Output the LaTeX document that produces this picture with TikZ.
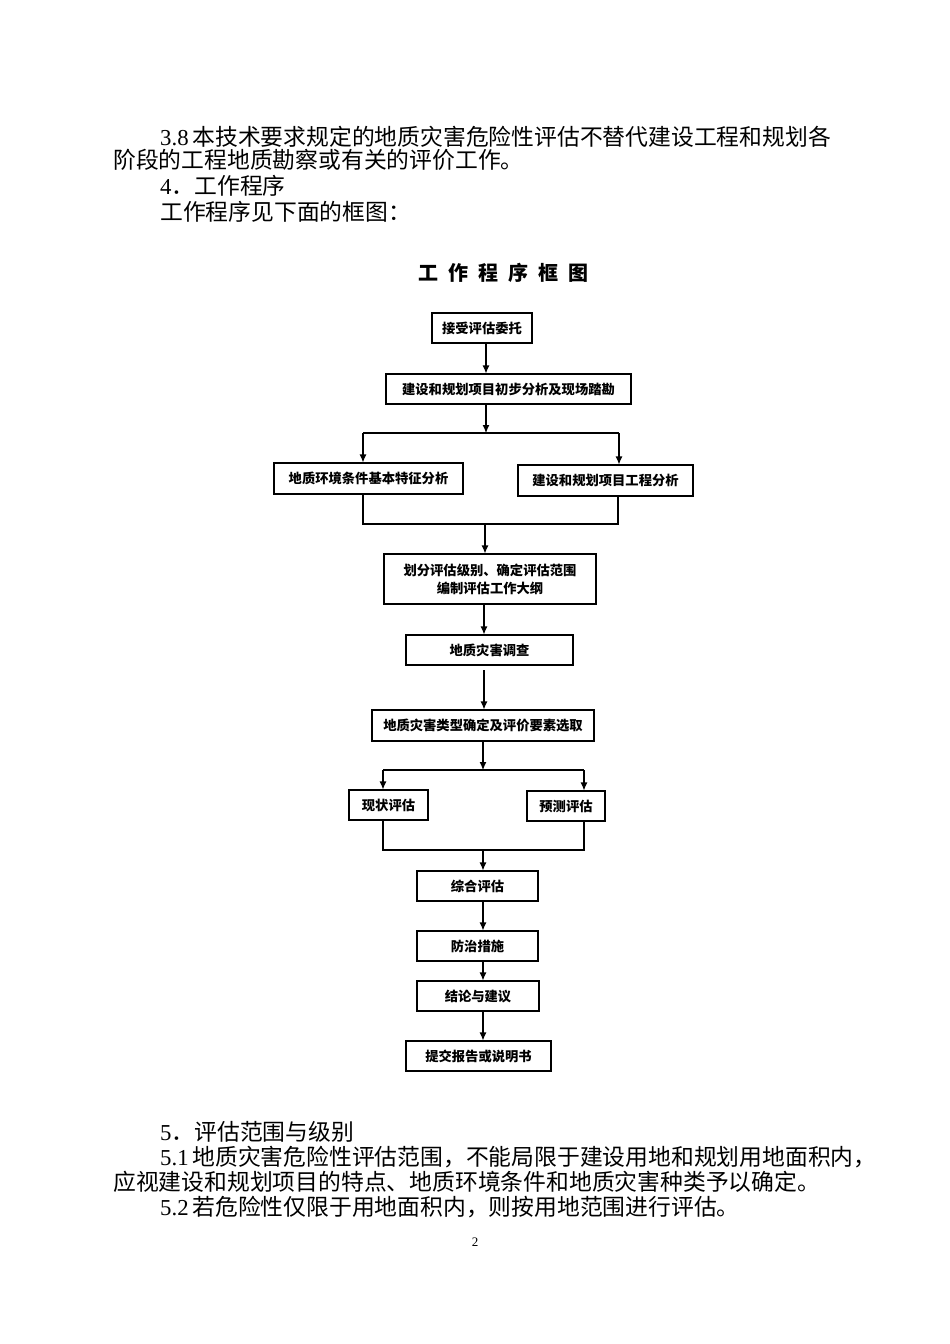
\documentclass[tikz,border=0pt]{standalone}
\usepackage{fontspec}
\setmainfont{Liberation Serif}
\newfontfamily\cjk{Noto Sans CJK SC}
\usetikzlibrary{arrows.meta}
\begin{document}
\begin{tikzpicture}[x=1pt,y=-1pt,
  body/.style={anchor=west,inner sep=0pt,font=\fontsize{22.8}{25}\selectfont},
  box/.style={draw,line width=1.1pt,inner sep=0pt,font=\cjk\bfseries\fontsize{13.3}{18}\selectfont,align=center},
  arr/.style={line width=1.1pt,-{Latex[length=8pt,width=7pt]}},
  ln/.style={line width=1.1pt}]
\useasboundingbox (0,0) rectangle (950,1344);
\fill[white] (0,0) rectangle (950,1344);
% body text
\node[body] (t1) at (160,137) {3.8\,{\cjk 本技术要求规定的地质灾害危险性评估不替代建设工程和规划各}};
\node[body] (t2) at (113,160) {\cjk 阶段的工程地质勘察或有关的评价工作。};
\node[body] (t3) at (160,186) {4{\cjk ．工作程序}};
\node[body] (t4) at (160,212) {\cjk 工作程序见下面的框图：};
\node[body] (t5) at (160,1132) {5{\cjk ．评估范围与级别}};
\node[body] (t6) at (160,1157) {5.1\,{\cjk 地质灾害危险性评估范围，不能局限于建设用地和规划用地面积内，}};
\node[body] (t7) at (113,1182) {\cjk 应视建设和规划项目的特点、地质环境条件和地质灾害种类予以确定。};
\node[body] (t8) at (160,1207) {5.2\,{\cjk 若危险性仅限于用地面积内，则按用地范围进行评估。}};
\node[font=\fontsize{13}{15}\selectfont] (pg) at (475,1242) {2};
% title
\foreach \c [count=\i from 0] in {工,作,程,序,框,图}
  \node[font=\cjk\bfseries\fontsize{20}{22}\selectfont] (h\i) at (428+30*\i,273) {\c};
% boxes
\node[box,minimum width=100pt,minimum height=30pt] (b1) at (482,328) {接受评估委托};
\node[box,minimum width=245pt,minimum height=30pt] (b2) at (508.5,389) {建设和规划项目初步分析及现场踏勘};
\node[box,minimum width=189pt,minimum height=31pt] (b3) at (368.5,478.5) {地质环境条件基本特征分析};
\node[box,minimum width=175pt,minimum height=31pt] (b4) at (605.5,480.5) {建设和规划项目工程分析};
\node[box,minimum width=212pt,minimum height=50pt] (b5) at (490,579) {划分评估级别、确定评估范围\\编制评估工作大纲};
\node[box,minimum width=167pt,minimum height=30pt] (b6) at (489.5,650) {地质灾害调查};
\node[box,minimum width=222pt,minimum height=31pt] (b7) at (483,725.5) {地质灾害类型确定及评价要素选取};
\node[box,minimum width=79pt,minimum height=30pt] (b8) at (388.5,805) {现状评估};
\node[box,minimum width=78pt,minimum height=30pt] (b9) at (566,806) {预测评估};
\node[box,minimum width=121pt,minimum height=30pt] (b10) at (477.5,886) {综合评估};
\node[box,minimum width=121pt,minimum height=30pt] (b11) at (477.5,946) {防治措施};
\node[box,minimum width=122pt,minimum height=30pt] (b12) at (478,996) {结论与建议};
\node[box,minimum width=145pt,minimum height=30pt] (b13) at (478.5,1056) {提交报告或说明书};
% connectors
\coordinate (s1) at (486,433);
\coordinate (s1L) at (363,433);
\coordinate (s1R) at (619,433);
\coordinate (m1) at (485,524);
\coordinate (m1L) at (363,524);
\coordinate (m1R) at (618,524);
\coordinate (s2) at (483,770);
\coordinate (s2L) at (383,770);
\coordinate (s2R) at (584,770);
\coordinate (m2) at (483,850);
\coordinate (m2L) at (383,850);
\coordinate (m2R) at (584,850);
\coordinate (g6) at (484,670);
\draw[arr] (b1.south -| 486,0) -- (b2.north -| 486,0);
\draw[arr] (b2.south -| s1) -- (s1);
\draw[ln] (s1L) -- (s1R);
\draw[arr] (s1L) -- (s1L |- b3.north);
\draw[arr] (s1R) -- (s1R |- b4.north);
\draw[ln] (m1L |- b3.south) -- (m1L) -- (m1R) -- (m1R |- b4.south);
\draw[arr] (m1) -- (m1 |- b5.north);
\draw[arr] (b5.south -| 484,0) -- (b6.north -| 484,0);
\draw[arr] (g6) -- (g6 |- b7.north);
\draw[arr] (b7.south -| s2) -- (s2);
\draw[ln] (s2L) -- (s2R);
\draw[arr] (s2L) -- (s2L |- b8.north);
\draw[arr] (s2R) -- (s2R |- b9.north);
\draw[ln] (m2L |- b8.south) -- (m2L) -- (m2R) -- (m2R |- b9.south);
\draw[arr] (m2) -- (m2 |- b10.north);
\draw[arr] (b10.south -| 483,0) -- (b11.north -| 483,0);
\draw[arr] (b11.south -| 483,0) -- (b12.north -| 483,0);
\draw[arr] (b12.south -| 483,0) -- (b13.north -| 483,0);
\end{tikzpicture}
\end{document}
